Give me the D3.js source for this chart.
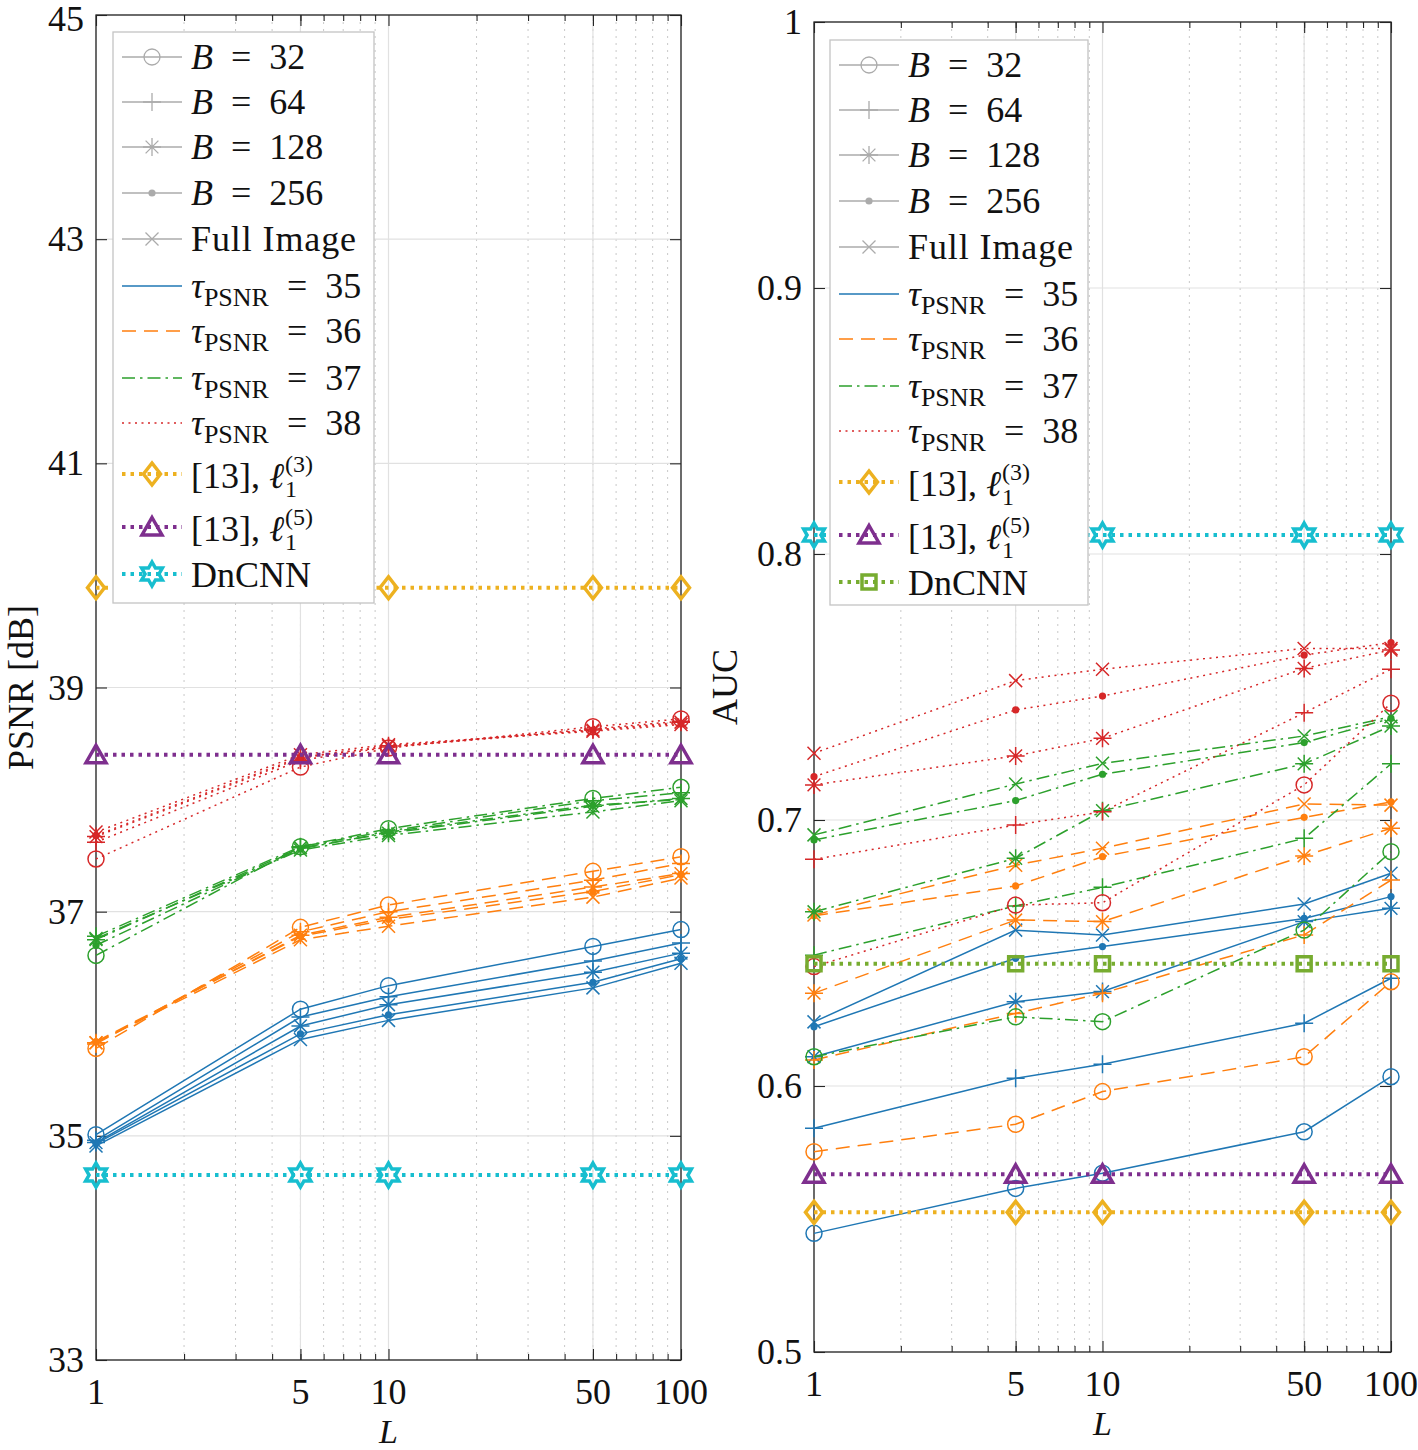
<!DOCTYPE html>
<html><head><meta charset="utf-8">
<script src="https://cdn.jsdelivr.net/npm/d3@7"></script>
<style>
body{margin:0;background:#fff}
svg text{font-family:"Liberation Serif","Times New Roman",serif;fill:#111}
</style>
</head><body>
<svg id="chart" width="1418" height="1450"></svg>
<script>
// ---------- data ----------
const Ls = [1, 5, 10, 50, 100];
const xTicks = [1, 5, 10, 50, 100];
const psnrTicks = [33, 35, 37, 39, 41, 43, 45];
const aucTicks = [0.5, 0.6, 0.7, 0.8, 0.9, 1];
const blockLabels = ["32", "64", "128", "256", "Full Image"];
const tauLabels = ["35", "36", "37", "38"];

// PSNR rows: B=32, B=64, B=128, B=256, Full image ; columns: L = 1,5,10,50,100
const psnrTau35 = [
  [35.01, 36.13, 36.34, 36.69, 36.84],
  [34.96, 36.06, 36.24, 36.56, 36.72],
  [34.94, 35.98, 36.17, 36.46, 36.63],
  [34.93, 35.91, 36.08, 36.37, 36.58],
  [34.91, 35.86, 36.03, 36.32, 36.54]];
const psnrTau36 = [
  [35.78, 36.86, 37.06, 37.36, 37.49],
  [35.82, 36.82, 37.00, 37.28, 37.43],
  [35.83, 36.79, 36.95, 37.22, 37.34],
  [35.84, 36.78, 36.93, 37.18, 37.33],
  [35.83, 36.75, 36.87, 37.13, 37.30]];
const psnrTau37 = [
  [36.61, 37.58, 37.74, 38.01, 38.11],
  [36.78, 37.58, 37.72, 37.99, 38.06],
  [36.75, 37.57, 37.70, 37.94, 38.01],
  [36.70, 37.56, 37.71, 37.95, 38.00],
  [36.76, 37.55, 37.68, 37.89, 37.99]];
const psnrTau38 = [
  [37.47, 38.29, 38.46, 38.65, 38.72],
  [37.62, 38.35, 38.47, 38.63, 38.70],
  [37.67, 38.37, 38.48, 38.62, 38.69],
  [37.68, 38.38, 38.47, 38.62, 38.68],
  [37.71, 38.40, 38.49, 38.61, 38.67]];
const psnrRef13L3 = [39.89, 39.89, 39.89, 39.89, 39.89];
const psnrRef13L5 = [38.40, 38.40, 38.40, 38.40, 38.40];
const psnrDnCNN   = [34.65, 34.65, 34.65, 34.65, 34.65];

const aucTau35 = [
  [0.5446, 0.5615, 0.5672, 0.5828, 0.6035],
  [0.5841, 0.6029, 0.6082, 0.6236, 0.6405],
  [0.6110, 0.6317, 0.6355, 0.6618, 0.6668],
  [0.6223, 0.6480, 0.6524, 0.6630, 0.6712],
  [0.6241, 0.6586, 0.6568, 0.6684, 0.6800]];
const aucTau36 = [
  [0.5753, 0.5856, 0.5979, 0.6110, 0.6392],
  [0.6098, 0.6273, 0.6349, 0.6568, 0.6774],
  [0.6349, 0.6624, 0.6618, 0.6865, 0.6969],
  [0.6640, 0.6752, 0.6862, 0.7010, 0.7068],
  [0.6643, 0.6830, 0.6894, 0.7060, 0.7056]];
const aucTau37 = [
  [0.6110, 0.6260, 0.6242, 0.6586, 0.6881],
  [0.6492, 0.6677, 0.6747, 0.6931, 0.7211],
  [0.6655, 0.6856, 0.7035, 0.7211, 0.7353],
  [0.6925, 0.7073, 0.7172, 0.7291, 0.7382],
  [0.6944, 0.7135, 0.7213, 0.7316, 0.7388]];
const aucTau38 = [
  [0.6449, 0.6680, 0.6689, 0.7132, 0.7439],
  [0.6852, 0.6981, 0.7031, 0.7403, 0.7567],
  [0.7132, 0.7241, 0.7307, 0.7570, 0.7639],
  [0.7163, 0.7414, 0.7466, 0.7620, 0.7667],
  [0.7251, 0.7524, 0.7567, 0.7645, 0.7645]];
const aucRef13L3 = [0.5525, 0.5525, 0.5525, 0.5525, 0.5525];
const aucRef13L5 = [0.5668, 0.5668, 0.5668, 0.5668, 0.5668];
const aucDnCNN   = [0.6460, 0.6460, 0.6460, 0.6460, 0.6460];
const aucExtraHex = [0.8071, 0.8071, 0.8071, 0.8071, 0.8071];

// ---------- styles ----------
const tauColors = ["#1f77b4", "#ff7f0e", "#2ca02c", "#d62728"];
const tauDash = [null, "14,8", "13,5,2.5,5", "2,4.5"];
const blockMarkers = ["circle", "plus", "asterisk", "point", "cross"];
const cYellow = "#EDB120", cPurple = "#7E2F8E", cCyan = "#17BECF", cGreen = "#77AC30";
const legendGray = "#ababab";
const EQ = "\u2002=\u2002";

function markerPath(type) {
  switch (type) {
    case "circle": { const r = 8; return `M${r},0A${r},${r} 0 1,1 ${-r},0A${r},${r} 0 1,1 ${r},0Z`; }
    case "plus": { const h = 9; return `M${-h},0H${h}M0,${-h}V${h}`; }
    case "asterisk": { const h = 9, d = 6.4; return `M${-h},0H${h}M0,${-h}V${h}M${-d},${-d}L${d},${d}M${-d},${d}L${d},${-d}`; }
    case "cross": { const d = 6.5; return `M${-d},${-d}L${d},${d}M${-d},${d}L${d},${-d}`; }
    case "diamond": { const h = 11, w = 8.5; return `M0,${-h}L${w},0L0,${h}L${-w},0Z`; }
    case "triangle": { const w = 10, t = -9.5, b = 8; return `M0,${t}L${w},${b}L${-w},${b}Z`; }
    case "square": { const s = 7; return `M${-s},${-s}H${s}V${s}H${-s}Z`; }
    case "hexagram": {
      const R = 12, r = R / Math.sqrt(3); let p = [];
      for (let k = 0; k < 12; k++) {
        const a = (-90 + 30 * k) * Math.PI / 180, rr = k % 2 === 0 ? R : r;
        p.push([rr * Math.cos(a), rr * Math.sin(a)]);
      }
      return "M" + p.map(q => q[0].toFixed(2) + "," + q[1].toFixed(2)).join("L") + "Z";
    }
  }
  return "";
}
function drawMarker(g, type, x, y, color, sw) {
  if (type === "point") {
    g.append("circle").attr("cx", x).attr("cy", y).attr("r", 3.6).attr("fill", color);
  } else {
    g.append("path").attr("d", markerPath(type)).attr("transform", `translate(${x},${y})`)
      .attr("fill", "none").attr("stroke", color).attr("stroke-width", sw).attr("stroke-linejoin", "miter");
  }
}

const svg = d3.select("#chart");

function panel(cfg) {
  const x = d3.scaleLog().domain([1, 100]).range([cfg.x0, cfg.x1]);
  const y = d3.scaleLinear().domain(cfg.yDomain).range([cfg.yBot, cfg.yTop]);
  const g = svg.append("g");

  // minor x grid (dotted)
  const minor = [];
  for (const dec of [1, 10]) for (let k = 2; k <= 9; k++) minor.push(k * dec);
  g.append("g").selectAll("line").data(minor).join("line")
    .attr("x1", d => x(d)).attr("x2", d => x(d)).attr("y1", cfg.yTop).attr("y2", cfg.yBot)
    .attr("stroke", "#c8c8c8").attr("stroke-width", 1).attr("stroke-dasharray", "2,5");
  // major grid
  g.append("g").selectAll("line").data(xTicks).join("line")
    .attr("x1", d => x(d)).attr("x2", d => x(d)).attr("y1", cfg.yTop).attr("y2", cfg.yBot)
    .attr("stroke", "#e1e1e1").attr("stroke-width", 1.2);
  g.append("g").selectAll("line").data(cfg.yTicks).join("line")
    .attr("x1", cfg.x0).attr("x2", cfg.x1).attr("y1", d => y(d)).attr("y2", d => y(d))
    .attr("stroke", "#e1e1e1").attr("stroke-width", 1.2);

  // axes (box + inward ticks) via d3 axes
  const tl = 11;
  const axB = d3.axisBottom(x).tickValues(xTicks).tickSize(tl).tickFormat("");
  const axT = d3.axisTop(x).tickValues(xTicks).tickSize(tl).tickFormat("");
  const axL = d3.axisLeft(y).tickValues(cfg.yTicks).tickSize(tl).tickFormat("");
  const axR = d3.axisRight(y).tickValues(cfg.yTicks).tickSize(tl).tickFormat("");
  const axBm = d3.axisBottom(x).tickValues(minor).tickSize(6).tickFormat("");
  const axTm = d3.axisTop(x).tickValues(minor).tickSize(6).tickFormat("");
  function styleAxis(sel) {
    sel.select(".domain").remove();
    sel.selectAll("line").attr("stroke", "#262626").attr("stroke-width", 1.1);
  }
  g.append("g").attr("transform", `translate(0,${cfg.yBot})`).call(axB).call(styleAxis)
    .selectAll(".tick line").attr("y2", -tl);
  g.append("g").attr("transform", `translate(0,${cfg.yBot})`).call(axBm).call(styleAxis)
    .selectAll(".tick line").attr("y2", -6);
  g.append("g").attr("transform", `translate(0,${cfg.yTop})`).call(axT).call(styleAxis)
    .selectAll(".tick line").attr("y2", tl);
  g.append("g").attr("transform", `translate(0,${cfg.yTop})`).call(axTm).call(styleAxis)
    .selectAll(".tick line").attr("y2", 6);
  g.append("g").attr("transform", `translate(${cfg.x0},0)`).call(axL).call(styleAxis)
    .selectAll(".tick line").attr("x2", tl);
  g.append("g").attr("transform", `translate(${cfg.x1},0)`).call(axR).call(styleAxis)
    .selectAll(".tick line").attr("x2", -tl);
  g.append("rect").attr("x", cfg.x0).attr("y", cfg.yTop)
    .attr("width", cfg.x1 - cfg.x0).attr("height", cfg.yBot - cfg.yTop)
    .attr("fill", "none").attr("stroke", "#262626").attr("stroke-width", 1.3);

  // tick labels
  g.append("g").selectAll("text").data(xTicks).join("text")
    .attr("x", d => x(d)).attr("y", cfg.yBot + 44).attr("text-anchor", "middle")
    .attr("font-size", 36).text(d => d);
  g.append("g").selectAll("text").data(cfg.yTicks).join("text")
    .attr("x", cfg.x0 - 12).attr("y", d => Math.max(y(d) + 12, 31)).attr("text-anchor", "end")
    .attr("font-size", 36).text(d => cfg.fmt(d));
  // axis labels
  g.append("text").attr("x", (cfg.x0 + cfg.x1) / 2).attr("y", cfg.yBot + 83)
    .attr("text-anchor", "middle").attr("font-size", 34).attr("font-style", "italic").text("L");
  g.append("text").attr("transform", `translate(${cfg.ylabX},${(cfg.yTop + cfg.yBot) / 2}) rotate(-90)`)
    .attr("text-anchor", "middle").attr("font-size", 36).text(cfg.ylab);

  const line = d3.line().x((d, i) => x(Ls[i])).y(d => y(d));
  const dataG = g.append("g");
  cfg.tauSets.forEach((set, t) => {
    set.forEach((vals, b) => {
      dataG.append("path").attr("d", line(vals)).attr("fill", "none")
        .attr("stroke", tauColors[t]).attr("stroke-width", 1.5)
        .attr("stroke-dasharray", tauDash[t]);
      vals.forEach((v, i) => drawMarker(dataG, blockMarkers[b], x(Ls[i]), y(v), tauColors[t], 1.5));
    });
  });
  cfg.refs.forEach(r => {
    dataG.append("path").attr("d", line(r.vals)).attr("fill", "none")
      .attr("stroke", r.color).attr("stroke-width", 4).attr("stroke-dasharray", "3.5,5");
    r.vals.forEach((v, i) => drawMarker(dataG, r.marker, x(Ls[i]), y(v), r.color, 3.5));
  });

  // legend
  const L = cfg.legend;
  const lg = g.append("g");
  lg.append("rect").attr("x", L.x).attr("y", L.y).attr("width", L.w).attr("height", L.h)
    .attr("fill", "#fff").attr("stroke", "#c4c4c4").attr("stroke-width", 1.3);
  const rowY = [25, 70, 115, 161, 207, 254, 299, 346, 391, 442, 495, 542].map(v => v + L.y);
  const sx0 = L.x + 9, sx1 = L.x + 69, mx = L.x + 39, tx = L.x + 78;
  const fs = 36;
  // B rows
  blockLabels.forEach((lab, b) => {
    const yy = rowY[b];
    lg.append("line").attr("x1", sx0).attr("x2", sx1).attr("y1", yy).attr("y2", yy)
      .attr("stroke", legendGray).attr("stroke-width", 1.3);
    drawMarker(lg, blockMarkers[b], mx, yy, legendGray, 1.3);
    const t = lg.append("text").attr("x", tx).attr("y", yy + 12).attr("font-size", fs);
    if (b < 4) {
      t.append("tspan").attr("font-style", "italic").text("B");
      t.append("tspan").text(EQ + lab);
    } else t.attr("letter-spacing", 0.9).text(lab);
  });
  tauLabels.forEach((lab, k) => {
    const yy = rowY[5 + k];
    lg.append("line").attr("x1", sx0).attr("x2", sx1).attr("y1", yy).attr("y2", yy)
      .attr("stroke", tauColors[k]).attr("stroke-width", 1.3).attr("stroke-dasharray", tauDash[k]);
    const t = lg.append("text").attr("x", tx).attr("y", yy + 12).attr("font-size", fs);
    t.append("tspan").attr("font-style", "italic").text("τ");
    t.append("tspan").attr("font-size", 26).attr("dy", 8).text("PSNR");
    t.append("tspan").attr("dy", -8).text(EQ + lab);
  });
  cfg.refs.filter(r => r.legend).forEach((r, k) => {
    const yy = rowY[9 + k];
    lg.append("line").attr("x1", sx0).attr("x2", sx1).attr("y1", yy).attr("y2", yy)
      .attr("stroke", r.color).attr("stroke-width", 4).attr("stroke-dasharray", "3.5,5");
    drawMarker(lg, r.marker, mx, yy, r.color, 3.5);
    if (r.sup) {
      const t = lg.append("text").attr("x", tx).attr("y", yy + 14).attr("font-size", fs);
      t.append("tspan").text("[13], ");
      t.append("tspan").attr("font-style", "italic").text("ℓ");
      const w = t.node().getComputedTextLength();
      t.append("tspan").attr("x", tx + w + 1).attr("dy", -16).attr("font-size", 24).text(r.sup);
      t.append("tspan").attr("x", tx + w + 1).attr("dy", 25).attr("font-size", 24).text("1");
    } else {
      lg.append("text").attr("x", tx).attr("y", yy + 13).attr("font-size", fs).text(r.label);
    }
  });
}

panel({
  x0: 96, x1: 681, yTop: 15, yBot: 1360, yDomain: [33, 45], yTicks: psnrTicks,
  fmt: d => d, ylab: "PSNR [dB]", ylabX: 33,
  tauSets: [psnrTau35, psnrTau36, psnrTau37, psnrTau38],
  refs: [
    { vals: psnrRef13L3, color: cYellow, marker: "diamond", legend: true, sup: "(3)" },
    { vals: psnrRef13L5, color: cPurple, marker: "triangle", legend: true, sup: "(5)" },
    { vals: psnrDnCNN, color: cCyan, marker: "hexagram", legend: true, label: "DnCNN" }],
  legend: { x: 113, y: 32, w: 261, h: 571 }
});
panel({
  x0: 814, x1: 1391, yTop: 22, yBot: 1352, yDomain: [0.5, 1], yTicks: aucTicks,
  fmt: d => d === 1 ? "1" : d3.format(".1f")(d), ylab: "AUC", ylabX: 737,
  tauSets: [aucTau35, aucTau36, aucTau37, aucTau38],
  refs: [
    { vals: aucExtraHex, color: cCyan, marker: "hexagram", legend: false },
    { vals: aucRef13L3, color: cYellow, marker: "diamond", legend: true, sup: "(3)" },
    { vals: aucRef13L5, color: cPurple, marker: "triangle", legend: true, sup: "(5)" },
    { vals: aucDnCNN, color: cGreen, marker: "square", legend: true, label: "DnCNN" }],
  legend: { x: 830, y: 40, w: 258, h: 565 }
});
</script>
</body></html>
